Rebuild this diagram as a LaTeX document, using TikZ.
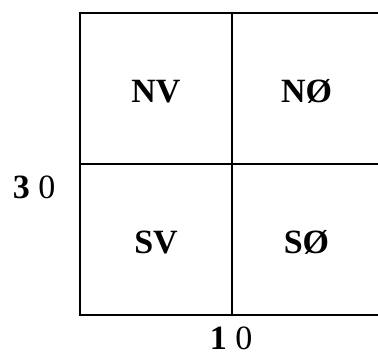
\documentclass[tikz,border=0pt]{standalone}
\usepackage{fontspec}
\setmainfont{Liberation Serif}
\begin{document}
\begin{tikzpicture}[x=1pt,y=-1pt,
  gridline/.style={line width=2pt,line cap=rect},
  celllabel/.style={anchor=base,inner sep=0pt,font=\fontsize{34}{40}\selectfont\bfseries},
  axislabel/.style={anchor=base,inner sep=0pt,font=\fontsize{34}{40}\selectfont}]
\clip (0,0) rectangle (378,353);
\useasboundingbox (0,0) rectangle (378,353);
\draw[gridline] (390,13.3) -- (80,13.3) -- (80,315.3) -- (390,315.3);
\draw[gridline] (231.5,13.3) -- (231.5,315.3);
\draw[gridline] (80,164.3) -- (390,164.3);
\node[celllabel] (nv) at (156,102.3) {NV};
\node[celllabel] (no) at (306.5,102.3) {NØ};
\node[celllabel] (sv) at (156,253.5) {SV};
\node[celllabel] (so) at (306.5,253.5) {SØ};
\node[axislabel] (y) at (34,198.5) {\textbf{3} 0};
\node[axislabel] (x) at (231,349) {\textbf{1} 0};
\end{tikzpicture}
\end{document}
